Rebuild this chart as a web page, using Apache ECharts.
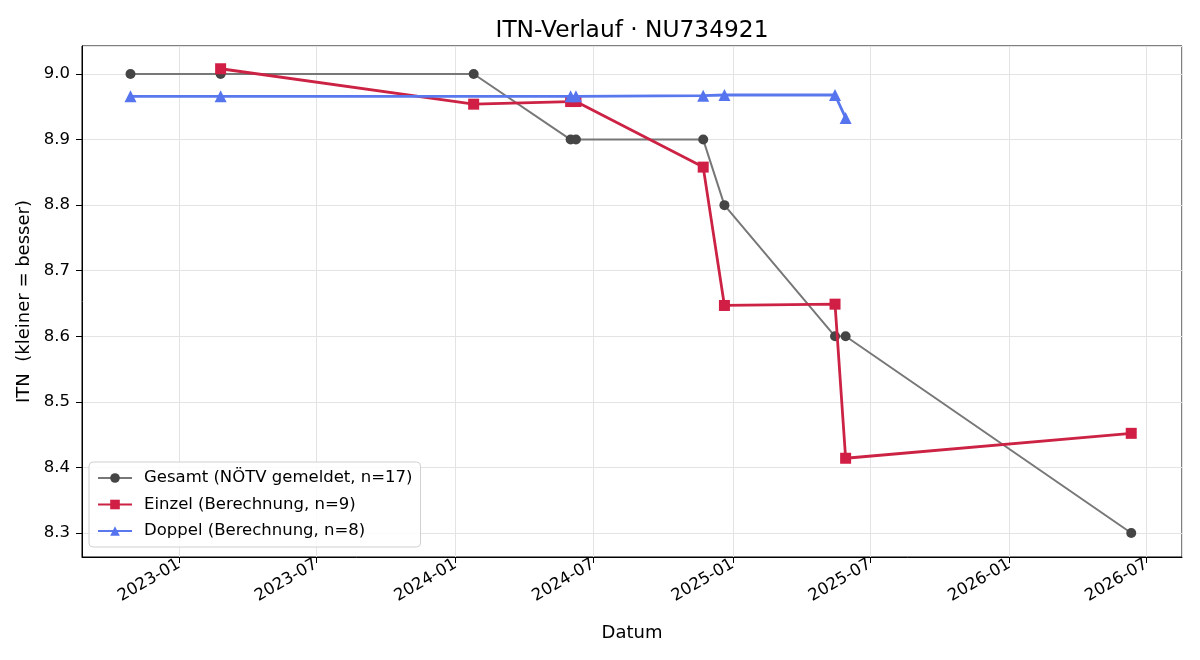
<!DOCTYPE html>
<html>
<head>
<meta charset="utf-8">
<script src="https://cdn.jsdelivr.net/npm/echarts@6/dist/echarts.min.js"></script>
<style>
  html, body { margin: 0; padding: 0; background: #fff; }
  #chart { width: 1200px; height: 660px; }
</style>
</head>
<body>
<div id="chart"></div>
<script>
// ITN history
const gesamtDates = ['2022-10-29', '2023-02-25', '2024-01-25', '2024-06-01', '2024-06-08',
  '2024-11-23', '2024-12-21', '2025-05-16', '2025-05-30', '2026-06-11']
const gesamtValues = [9.0, 9.0, 9.0, 8.9, 8.9, 8.9, 8.8, 8.6, 8.6, 8.3]

const einzelDates = ['2023-02-25', '2024-01-25', '2024-06-01', '2024-06-08', '2024-11-23',
  '2024-12-21', '2025-05-16', '2025-05-30', '2026-06-11']
const einzelValues = [9.008, 8.954, 8.958, 8.958, 8.858, 8.647, 8.649, 8.414, 8.452]

const doppelDates = ['2022-10-29', '2023-02-25', '2024-06-01', '2024-06-08', '2024-11-23',
  '2024-12-21', '2025-05-16', '2025-05-30']
const doppelValues = [8.966, 8.966, 8.966, 8.966, 8.967, 8.968, 8.968, 8.933]

const seriesNames = ['Gesamt (NÖTV gemeldet, n=17)', 'Einzel (Berechnung, n=9)', 'Doppel (Berechnung, n=8)']

const pairs = (dates, values) => dates.map((d, i) => [d, values[i]])

const FONT = 'DejaVu Sans'
const chart = echarts.init(document.getElementById('chart'))

chart.setOption({
  animation: false,
  textStyle: { fontFamily: FONT },
  title: {
    text: 'ITN-Verlauf · NU734921',
    left: 627,
    textAlign: 'center',
    top: 14,
    textStyle: { fontFamily: FONT, fontSize: 23.3, fontWeight: 'normal', color: '#000' }
  },
  grid: {
    left: 82,
    right: 18,
    top: 46,
    bottom: 103,
    show: true,
    borderColor: '#000',
    borderWidth: 1
  },
  legend: {
    orient: 'vertical',
    left: 89,
    top: 462,
    padding: [6, 8, 6, 8],
    itemGap: 6.5,
    itemWidth: 34,
    itemHeight: 12,
    backgroundColor: 'rgba(255,255,255,0.85)',
    borderColor: '#d0d0d0',
    borderWidth: 1,
    borderRadius: 4,
    textStyle: { fontFamily: FONT, fontSize: 16.5, color: '#000', padding: [0, 0, 0, 7], lineHeight: 20 },
    data: seriesNames
  },
  xAxis: {
    type: 'time',
    min: '2022-08-26',
    max: '2026-08-17',
    splitNumber: 8,
    name: 'Datum',
    nameLocation: 'middle',
    nameGap: 67,
    nameTextStyle: { fontFamily: FONT, fontSize: 18, color: '#000' },
    axisLine: { lineStyle: { color: '#000', width: 1 } },
    axisTick: { show: true, length: 6, lineStyle: { color: '#000' } },
    axisLabel: {
      rotate: 30,
      fontFamily: FONT,
      fontSize: 16.5,
      color: '#000',
      margin: 6,
      formatter: '{yyyy}-{MM}',
      hideOverlap: false
    },
    splitLine: { show: true, lineStyle: { color: '#e3e3e3', width: 1 } }
  },
  yAxis: {
    type: 'value',
    min: 8.2634,
    max: 9.0427,
    splitNumber: 8,
    name: 'ITN  (kleiner = besser)',
    nameLocation: 'middle',
    nameGap: 46,
    nameTextStyle: { fontFamily: FONT, fontSize: 18, color: '#000' },
    axisLine: { show: true, lineStyle: { color: '#000', width: 1 } },
    axisTick: { show: true, length: 6, lineStyle: { color: '#000' } },
    axisLabel: {
      fontFamily: FONT,
      fontSize: 16.5,
      color: '#000',
      margin: 12,
      showMinLabel: false,
      showMaxLabel: false,
      formatter: v => v.toFixed(1)
    },
    splitLine: { show: true, lineStyle: { color: '#e3e3e3', width: 1 } }
  },
  series: [
    {
      name: seriesNames[0],
      type: 'line',
      data: pairs(gesamtDates, gesamtValues),
      symbol: 'circle',
      symbolSize: 10,
      lineStyle: { color: '#777777', width: 2 },
      itemStyle: { color: '#454545', borderWidth: 0 },
      color: '#777777',
      z: 2
    },
    {
      name: seriesNames[1],
      type: 'line',
      data: pairs(einzelDates, einzelValues),
      symbol: 'rect',
      symbolSize: 11,
      lineStyle: { color: '#cc2244', width: 2.8 },
      itemStyle: { color: '#d01e45', borderWidth: 0 },
      color: '#cc2244',
      z: 3
    },
    {
      name: seriesNames[2],
      type: 'line',
      data: pairs(doppelDates, doppelValues),
      symbol: 'triangle',
      symbolSize: 12,
      lineStyle: { color: '#5a78ee', width: 2.8 },
      itemStyle: { color: '#5574ee', borderWidth: 0 },
      color: '#5a78ee',
      z: 4
    }
  ]
})
</script>
</body>
</html>
